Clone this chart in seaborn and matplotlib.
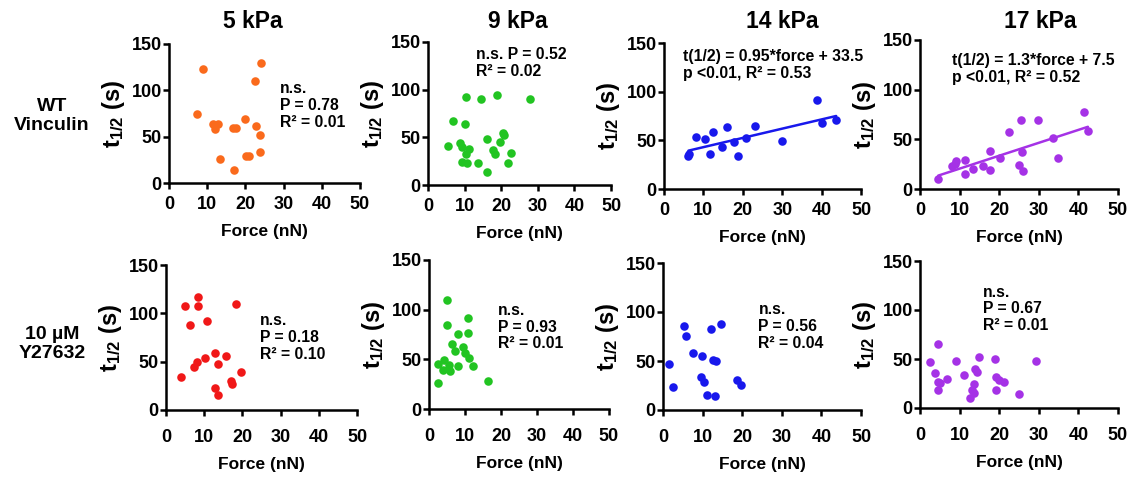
import numpy as np
import pandas as pd
import seaborn as sns
import matplotlib.pyplot as plt

# WT vinculin, force (nN) vs t1/2 (s)
force_wt_5 = [9.0, 24.1, 22.5, 7.2, 11.4, 12.9, 12.0, 16.8, 17.5, 19.9, 22.9, 23.9, 13.4, 17.0, 20.2, 20.9, 23.9]
t_wt_5 = [122.9, 129.4, 110.2, 74.8, 64.0, 64.0, 58.5, 59.6, 59.3, 68.7, 61.4, 52.0, 26.4, 14.5, 28.9, 29.6, 33.2]

force_wt_9 = [10.5, 14.4, 18.9, 27.8, 6.9, 10.1, 5.6, 8.7, 9.3, 10.3, 11.3, 9.3, 10.7, 13.6, 16.1, 16.1, 17.7,
              18.4, 19.6, 20.5, 20.9, 22.6, 21.8]
t_wt_9 = [91.9, 90.1, 94.7, 89.8, 66.9, 64.4, 40.8, 43.7, 39.8, 32.7, 37.3, 24.6, 23.2, 23.6, 47.9, 13.4, 36.3,
          32.7, 44.7, 54.9, 52.5, 33.5, 23.2]

force_wt_14 = [6.3, 6.2, 8.2, 10.5, 12.5, 11.6, 15.9, 14.8, 17.7, 18.7, 20.8, 23.1, 30.0, 38.8, 40.0, 43.7]
t_wt_14 = [36.1, 33.4, 53.9, 51.1, 58.6, 36.1, 63.4, 43.6, 48.1, 33.8, 52.2, 64.4, 49.1, 91.7, 67.8, 70.9]

force_wt_17 = [4.6, 8.2, 8.8, 9.2, 11.4, 11.4, 13.4, 15.9, 17.8, 17.8, 20.3, 22.4, 25.0, 25.6, 25.7, 26.1,
               29.7, 33.5, 34.9, 41.4, 42.4]
t_wt_17 = [10.4, 22.8, 24.8, 27.8, 29.5, 15.1, 20.4, 22.8, 38.5, 19.4, 30.8, 56.9, 24.4, 69.6, 37.5, 18.1,
           69.0, 51.6, 30.8, 78.0, 57.9]

# 10 uM Y27632
force_y_5 = [3.9, 5.1, 6.2, 8.3, 8.3, 10.7, 7.4, 8.1, 10.1, 12.9, 13.5, 12.9, 13.5, 15.8, 17.1, 17.4, 19.7, 18.3]
t_y_5 = [34.3, 107.1, 88.2, 117.4, 108.1, 91.7, 44.0, 50.1, 53.6, 59.0, 48.1, 22.3, 15.8, 55.6, 29.6, 27.0, 39.5, 109.5]

force_y_9 = [5.0, 5.0, 10.7, 10.7, 8.1, 6.3, 7.2, 9.4, 10.0, 11.2, 12.2, 8.1, 2.6, 4.3, 3.8, 5.6, 5.7, 2.6, 16.5]
t_y_9 = [109.5, 84.6, 91.9, 77.0, 76.0, 65.4, 58.7, 62.0, 56.1, 51.1, 43.1, 43.1, 44.8, 49.8, 39.5, 44.5, 37.8,
         26.2, 28.2]

force_y_14 = [1.4, 2.5, 5.2, 5.7, 7.6, 9.9, 9.5, 10.4, 11.0, 13.2, 12.2, 14.7, 12.5, 13.3, 18.8, 19.8]
t_y_14 = [46.5, 23.8, 85.9, 76.0, 58.0, 55.0, 33.9, 28.5, 15.6, 14.6, 82.8, 87.5, 50.9, 50.2, 30.2, 25.1]

force_y_17 = [2.4, 4.6, 3.8, 4.6, 4.6, 5.1, 6.8, 9.2, 11.2, 12.6, 13.2, 13.7, 13.7, 14.0, 14.4, 14.9, 19.0,
              19.2, 19.2, 19.9, 21.3, 25.0, 29.2]
t_y_17 = [47.0, 65.5, 35.8, 26.6, 18.1, 25.9, 29.3, 48.1, 33.4, 10.6, 18.1, 24.2, 15.3, 40.2, 36.5, 52.2, 49.8,
          31.7, 18.8, 29.0, 26.6, 14.7, 48.4]

# linear fits reported on the figure (slope, intercept)
fit_wt_14 = (0.95, 33.5)
fit_wt_17 = (1.3, 7.5)

stiffness = ['5 kPa', '9 kPa', '14 kPa', '17 kPa']
row_labels = ['WT\nVinculin', '10 \u00b5M\nY27632']
colors = ['#FA6A1C', '#F01818', '#22C422', '#1818EC', '#A532E6']

notes = ['n.s.\nP = 0.78\nR\u00b2 = 0.01', 'n.s. P = 0.52\nR\u00b2 = 0.02',
         't(1/2) = 0.95*force + 33.5\np <0.01, R\u00b2 = 0.53', 't(1/2) = 1.3*force + 7.5\np <0.01, R\u00b2 = 0.52',
         'n.s.\nP = 0.18\nR\u00b2 = 0.10', 'n.s.\nP = 0.93\nR\u00b2 = 0.01',
         'n.s.\nP = 0.56\nR\u00b2 = 0.04', 'n.s.\nP = 0.67\nR\u00b2 = 0.01']

sns.set_style('ticks')
plt.rcParams['font.family'] = ['Liberation Sans', 'DejaVu Sans']
plt.rcParams['font.weight'] = 'bold'
plt.rcParams['axes.labelweight'] = 'bold'
plt.rcParams['text.color'] = 'black'
plt.rcParams['axes.labelcolor'] = 'black'
plt.rcParams['mathtext.fontset'] = 'custom'
plt.rcParams['mathtext.rm'] = 'Liberation Sans:bold'
plt.rcParams['mathtext.bf'] = 'Liberation Sans:bold'
plt.rcParams['mathtext.it'] = 'Liberation Sans:bold'

W, H = 1133, 479
fig = plt.figure(figsize=(W / 100, H / 100), dpi=100)

# axes boxes in pixels: left, top(y=150), right(x=50), bottom(y=0)
boxes = [(169, 44, 360, 183), (428, 42, 611, 185), (664, 43, 861, 189), (920, 40, 1118, 189),
         (166, 265, 357, 410), (429, 260, 609, 409), (663, 263, 861, 410), (920, 261, 1118, 408)]
note_pos = [(29, 110), (13.2, 145), (4.7, 144), (8.0, 137), (24.5, 100), (19.2, 107), (24.1, 110), (16.0, 126)]

data = [(force_wt_5, t_wt_5, colors[0], None), (force_wt_9, t_wt_9, colors[2], None),
        (force_wt_14, t_wt_14, colors[3], fit_wt_14), (force_wt_17, t_wt_17, colors[4], fit_wt_17),
        (force_y_5, t_y_5, colors[1], None), (force_y_9, t_y_9, colors[2], None),
        (force_y_14, t_y_14, colors[3], None), (force_y_17, t_y_17, colors[4], None)]

for i, (fx, ty, col, fit) in enumerate(data):
    l, t, r, b = boxes[i]
    ax = fig.add_axes([l / W, 1 - b / H, (r - l) / W, (b - t) / H])
    df = pd.DataFrame({'force': fx, 't': ty})
    sns.scatterplot(data=df, x='force', y='t', color=col, s=38, linewidth=0, ax=ax, clip_on=False)
    if fit is not None:
        xs = np.array([df['force'].min(), df['force'].max()])
        sns.lineplot(x=xs, y=fit[0] * xs + fit[1], color=col, linewidth=1.8, ax=ax)
    ax.set_xlim(0, 50)
    ax.set_ylim(0, 150)
    ax.set_xticks([0, 10, 20, 30, 40, 50])
    ax.set_yticks([0, 50, 100, 150])
    for s in ['top', 'right']:
        ax.spines[s].set_visible(False)
    for s in ['left', 'bottom']:
        ax.spines[s].set_linewidth(1.8)
        ax.spines[s].set_color('black')
    ax.tick_params(width=1.8, length=4.3, labelsize=13, colors='black')
    ax.tick_params(axis='x', pad=5 if i < 4 else 9.5)
    ax.tick_params(axis='y', pad=1)
    ax.set_xlabel('Force (nN)', fontsize=12.5, labelpad=8)
    ax.set_ylabel(r'$\mathrm{t_{1/2}}$ (s)', fontsize=17, labelpad=3)
    ax.text(note_pos[i][0], note_pos[i][1], notes[i], fontsize=11.3, fontweight='bold', va='top', ha='left',
            linespacing=1.15)

title_x = [253, 518, 782, 1040]
for name, x in zip(stiffness, title_x):
    fig.text(x / W, 1 - 21 / H, name, fontsize=16.5, fontweight='bold', ha='center', va='center')

fig.text(52 / W, 1 - 116 / H, row_labels[0], fontsize=14, fontweight='bold', ha='center', va='center',
         linespacing=1.2)
fig.text(52 / W, 1 - 344 / H, row_labels[1], fontsize=14, fontweight='bold', ha='center', va='center',
         linespacing=1.2)

fig.savefig('out.png', dpi=100)
